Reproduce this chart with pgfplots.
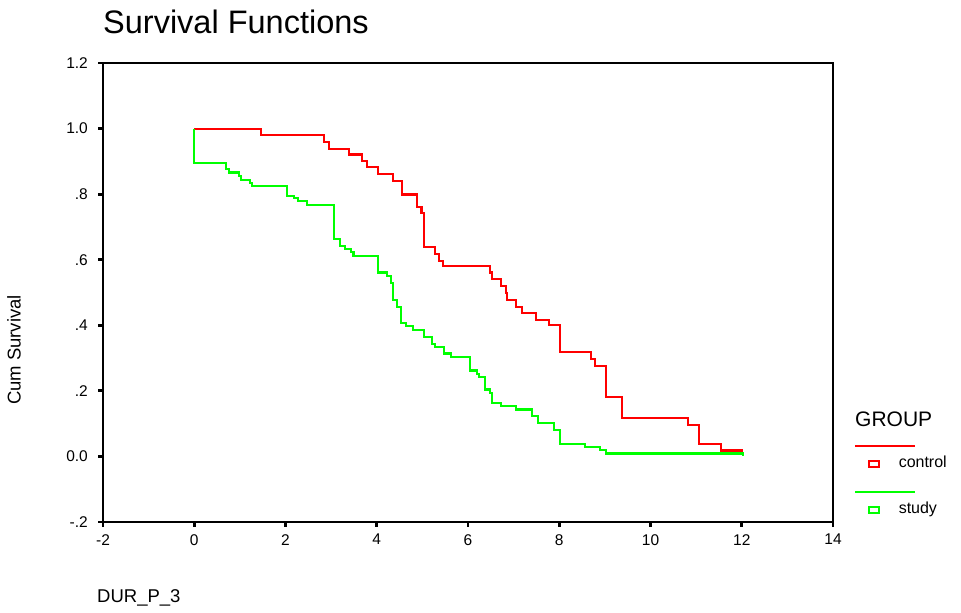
\documentclass[border=0pt]{standalone}
\usepackage{pgfplots}
\pgfplotsset{compat=1.18}
\usepackage{fontspec}
\setmainfont{Liberation Sans}
\definecolor{kmred}{RGB}{255,0,0}
\definecolor{kmgreen}{RGB}{0,255,0}

\pgfplotstableread{
x y
0 1.000
1.47 0.980
2.85 0.959
2.95 0.938
3.39 0.921
3.68 0.902
3.78 0.882
4.02 0.862
4.36 0.840
4.55 0.799
4.89 0.762
4.98 0.742
5.04 0.639
5.27 0.618
5.36 0.597
5.46 0.581
6.49 0.561
6.52 0.540
6.73 0.519
6.83 0.499
6.86 0.477
7.06 0.457
7.18 0.437
7.49 0.416
7.78 0.401
8.02 0.319
8.69 0.298
8.79 0.276
9.03 0.180
9.38 0.117
10.82 0.097
11.07 0.039
11.55 0.018
12.02 0.018
}\controltab

\pgfplotstableread{
x y
0 1.000
0 0.896
0.69 0.876
0.77 0.866
0.98 0.855
1.02 0.843
1.22 0.835
1.26 0.824
2.03 0.794
2.18 0.788
2.27 0.778
2.47 0.768
3.06 0.664
3.19 0.643
3.30 0.634
3.44 0.624
3.49 0.612
4.02 0.561
4.22 0.551
4.31 0.530
4.36 0.477
4.45 0.457
4.54 0.406
4.65 0.397
4.79 0.386
5.03 0.365
5.22 0.344
5.27 0.335
5.47 0.314
5.62 0.304
6.05 0.262
6.19 0.252
6.24 0.241
6.38 0.204
6.49 0.194
6.53 0.163
6.73 0.153
7.06 0.143
7.40 0.123
7.54 0.102
7.88 0.081
8.02 0.039
8.56 0.029
8.89 0.019
9.03 0.009
12.02 0.009
12.02 0.000
}\studytab

\begin{document}
\begin{tikzpicture}
\useasboundingbox (0,0) rectangle (961pt,613pt);
\node[anchor=base west, inner sep=0pt, font=\fontsize{32.5}{36}\selectfont] at (103pt,579pt) {Survival Functions};
\begin{axis}[
  at={(103pt,91pt)}, anchor=south west,
  scale only axis, width=730pt, height=459pt,
  axis line style={line width=1.8pt},
  xmin=-2, xmax=14, ymin=-0.2, ymax=1.2,
  xtick={-2,0,2,4,6,8,10,12,14},
  xticklabels={-2,0,2,4,6,8,10,12,14},
  ytick={-0.2,0,0.2,0.4,0.6,0.8,1.0,1.2},
  yticklabels={-.2,0.0,.2,.4,.6,.8,1.0,1.2},
  tick align=outside,
  major tick length=5pt,
  tick style={draw=none},
  tick label style={font=\fontsize{15.5}{18}\selectfont},
  yticklabel style={anchor=east, inner sep=0pt, xshift=-10pt},
  xticklabel style={anchor=north, inner sep=0pt, yshift=-7pt},
  legend cell align=left,
  legend style={at={(1.04842,0.14380)}, anchor=north west, draw=none, fill=none,
    inner sep=0pt, outer sep=0pt, row sep=30pt, column sep=19pt,
    nodes={inner sep=0pt, text height=12pt, text depth=4pt, font=\fontsize{16}{19}\selectfont}},
  legend image code/.code={
    \draw[#1, overlay, mark=none] (-19pt,18pt) -- (41pt,18pt);
    \draw[#1, line width=1.4pt, mark=none] (-5pt,-3pt) rectangle (5pt,3pt);
  },
]
\addplot[kmred, line width=2.1pt, const plot, mark=none] table[x=x,y=y] {\controltab};
\addlegendentry{control}
\addplot[kmgreen, line width=2.1pt, const plot, mark=none] table[x=x,y=y] {\studytab};
\addlegendentry{study}
\end{axis}
% tick marks on the left and bottom sides of the frame only
\foreach \k in {0,...,8} \draw[black, line width=2.8pt] ({103pt+\k*91.25pt},91pt) -- ++(0pt,-5pt);
\foreach \k in {0,...,7} \draw[black, line width=2.8pt] (103pt,{91pt+\k*65.5714pt}) -- ++(-5pt,0pt);
\node[anchor=base west, inner sep=0pt, font=\fontsize{21}{24}\selectfont] at (855pt,186.3pt) {GROUP};
\node[rotate=90, anchor=center, inner sep=0pt, font=\fontsize{18.5}{21}\selectfont] at (14pt,263pt) {Cum Survival};
\node[anchor=base west, inner sep=0pt, font=\fontsize{18.5}{21}\selectfont] at (97pt,10pt) {DUR\_P\_3};
\end{tikzpicture}
\end{document}
